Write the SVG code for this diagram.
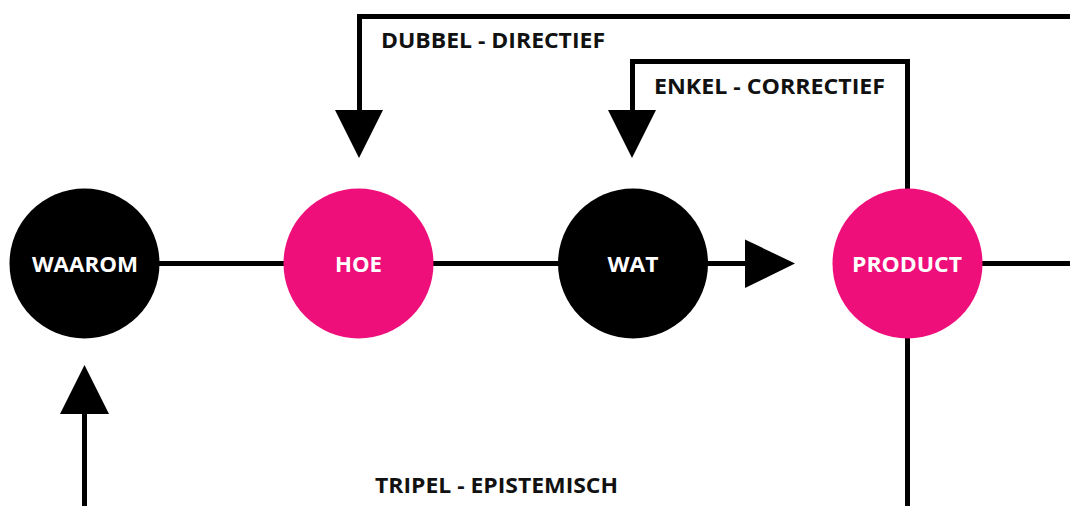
<svg xmlns="http://www.w3.org/2000/svg" width="1070" height="506" viewBox="0 0 1070 506">
<style>
.ln{stroke:#000;stroke-width:5;fill:none}
.ah{fill:#000}
.blk{fill:#000}
.pnk{fill:#EF0F7A}
.nt{font-family:"Open Sans","Liberation Sans",sans-serif;font-weight:700;font-size:21px;fill:#fff;text-anchor:middle}
.lb{font-family:"Open Sans","Liberation Sans",sans-serif;font-weight:700;font-size:21px;fill:#111}
</style>
<rect width="1070" height="506" fill="#fff"/>
<g id="connectors">
<line class="ln" x1="84" y1="263.5" x2="746" y2="263.5"/>
<line class="ln" x1="907" y1="263.5" x2="1070" y2="263.5"/>
<polyline class="ln" points="1070,16.5 359.5,16.5 359.5,112"/>
<polygon class="ah" points="335,110 383,110 359,158"/>
<polyline class="ln" points="907.5,189 907.5,61.5 632.5,61.5 632.5,112"/>
<polygon class="ah" points="608,110 656,110 632,158"/>
<polygon class="ah" points="745,239.5 745,288 795,263.5"/>
<line class="ln" x1="907.5" y1="330" x2="907.5" y2="506"/>
<line class="ln" x1="84.5" y1="410" x2="84.5" y2="506"/>
<polygon class="ah" points="60,414 109,414 84.5,365"/>
<text class="lb" x="381" y="48.3" textLength="224" lengthAdjust="spacingAndGlyphs">DUBBEL - DIRECTIEF</text>
<text class="lb" x="654" y="94" textLength="231" lengthAdjust="spacingAndGlyphs">ENKEL - CORRECTIEF</text>
<text class="lb" x="375" y="493.3" textLength="243" lengthAdjust="spacingAndGlyphs">TRIPEL - EPISTEMISCH</text>
</g>
<g id="waarom"><circle class="blk" cx="84.5" cy="263.5" r="75"/><text class="nt" x="85" y="271.7" textLength="106" lengthAdjust="spacingAndGlyphs">WAAROM</text></g>
<g id="hoe"><circle class="pnk" cx="358.5" cy="263.5" r="75"/><text class="nt" x="358.5" y="271.7" textLength="47" lengthAdjust="spacingAndGlyphs">HOE</text></g>
<g id="wat"><circle class="blk" cx="633" cy="263.5" r="75"/><text class="nt" x="633" y="271.7" textLength="51" lengthAdjust="spacingAndGlyphs">WAT</text></g>
<g id="product"><circle class="pnk" cx="907.5" cy="263.5" r="75"/><text class="nt" x="907" y="271.7" textLength="110" lengthAdjust="spacingAndGlyphs">PRODUCT</text></g>
</svg>
